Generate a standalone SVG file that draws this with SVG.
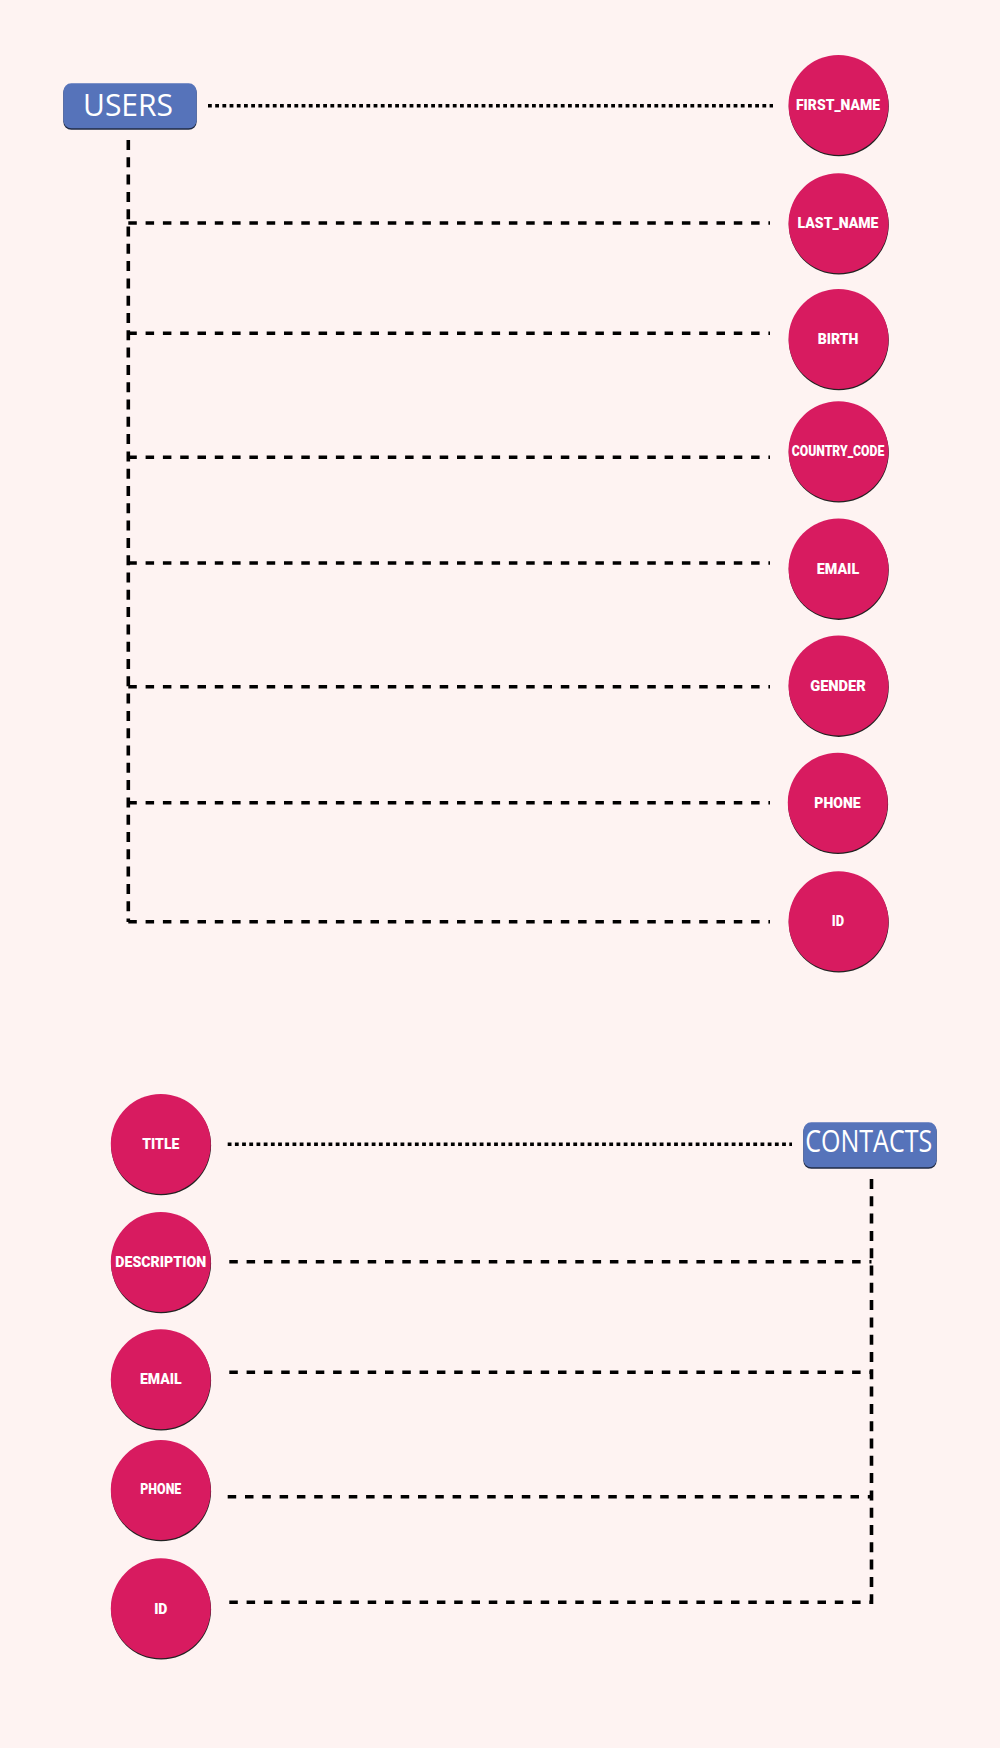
<svg xmlns="http://www.w3.org/2000/svg" width="1000" height="1748" viewBox="0 0 1000 1748">
<style>
.bg{fill:#FEF3F2}
.ent-shadow{fill:#1f2a44}
.ent{fill:#5673BA}
.ent-text{font-family:"Open Sans","Noto Sans","Liberation Sans",sans-serif;font-size:31px;fill:#ffffff;text-anchor:middle}
.attr-shadow{fill:#222222}
.attr{fill:#D81B60}
.attr-text{font-family:Roboto,"Liberation Sans",sans-serif;font-weight:900;font-size:15.5px;fill:#ffffff;text-anchor:middle}
.dash{fill:none;stroke:#000000;stroke-width:3.6;stroke-dasharray:8.5 8.8}
.vdash{fill:none;stroke:#000000;stroke-width:3.6;stroke-dasharray:10 7.3}
.dot{fill:none;stroke:#000000;stroke-width:3.6;stroke-dasharray:3.8 3.4}
</style>
<rect class="bg" x="0" y="0" width="1000" height="1748"/>

<g id="connectors">
  <line class="dot" x1="208" y1="105.7" x2="773" y2="105.7"/>
  <line class="vdash" x1="128.3" y1="140" x2="128.3" y2="922"/>
  <line class="dash" x1="128.3" y1="223" x2="770" y2="223"/>
  <line class="dash" x1="128.3" y1="333.3" x2="770" y2="333.3"/>
  <line class="dash" x1="128.3" y1="457.3" x2="770" y2="457.3"/>
  <line class="dash" x1="128.3" y1="563" x2="770" y2="563"/>
  <line class="dash" x1="128.3" y1="686.7" x2="770" y2="686.7"/>
  <line class="dash" x1="128.3" y1="802.7" x2="770" y2="802.7"/>
  <line class="dash" x1="128.3" y1="921.7" x2="770" y2="921.7"/>

  <line class="dot" x1="227.7" y1="1144.3" x2="792" y2="1144.3"/>
  <line class="vdash" x1="871.5" y1="1179" x2="871.5" y2="1604"/>
  <line class="dash" x1="229.3" y1="1261.7" x2="871.5" y2="1261.7"/>
  <line class="dash" x1="229.3" y1="1372.3" x2="871.5" y2="1372.3"/>
  <line class="dash" x1="227.7" y1="1496.7" x2="871.5" y2="1496.7"/>
  <line class="dash" x1="229.3" y1="1602.3" x2="871.5" y2="1602.3"/>
</g>

<g id="users">
  <rect class="ent-shadow" x="63.3" y="84.8" width="133.4" height="45" rx="8"/>
  <rect class="ent" x="63.3" y="83.3" width="133.4" height="45" rx="8"/>
  <text class="ent-text" x="128" y="115.5" textLength="90" lengthAdjust="spacingAndGlyphs">USERS</text>
</g>

<g id="contacts">
  <rect class="ent-shadow" x="803.3" y="1123.8" width="133.4" height="45" rx="8"/>
  <rect class="ent" x="803.3" y="1122.3" width="133.4" height="45" rx="8"/>
  <text class="ent-text" x="868.7" y="1152" font-size="29" textLength="127" lengthAdjust="spacingAndGlyphs">CONTACTS</text>
</g>

<g id="users-first_name">
  <circle class="attr-shadow" cx="838.8" cy="106.3" r="50"/>
  <circle class="attr" cx="838.5" cy="105" r="50"/>
  <text class="attr-text" x="838" y="109.5" textLength="84" lengthAdjust="spacingAndGlyphs">FIRST_NAME</text>
</g>
<g id="users-last_name">
  <circle class="attr-shadow" cx="838.8" cy="224.6" r="50"/>
  <circle class="attr" cx="838.5" cy="223.3" r="50"/>
  <text class="attr-text" x="838" y="228" textLength="81" lengthAdjust="spacingAndGlyphs">LAST_NAME</text>
</g>
<g id="users-birth">
  <circle class="attr-shadow" cx="838.8" cy="340.3" r="50"/>
  <circle class="attr" cx="838.5" cy="339" r="50"/>
  <text class="attr-text" x="838" y="344" textLength="40.7" lengthAdjust="spacingAndGlyphs">BIRTH</text>
</g>
<g id="users-country_code">
  <circle class="attr-shadow" cx="838.8" cy="452.6" r="50"/>
  <circle class="attr" cx="838.5" cy="451.3" r="50"/>
  <text class="attr-text" x="838" y="455.5" font-size="12" textLength="92.5" lengthAdjust="spacingAndGlyphs">COUNTRY_CODE</text>
</g>
<g id="users-email">
  <circle class="attr-shadow" cx="838.8" cy="569.9" r="50"/>
  <circle class="attr" cx="838.5" cy="568.6" r="50"/>
  <text class="attr-text" x="838" y="573.6" textLength="42.3" lengthAdjust="spacingAndGlyphs">EMAIL</text>
</g>
<g id="users-gender">
  <circle class="attr-shadow" cx="838.8" cy="686.9" r="50"/>
  <circle class="attr" cx="838.5" cy="685.6" r="50"/>
  <text class="attr-text" x="838" y="690.6" textLength="55.7" lengthAdjust="spacingAndGlyphs">GENDER</text>
</g>
<g id="users-phone">
  <circle class="attr-shadow" cx="838.1" cy="804" r="50"/>
  <circle class="attr" cx="837.8" cy="802.7" r="50"/>
  <text class="attr-text" x="837.5" y="807.7" textLength="46.3" lengthAdjust="spacingAndGlyphs">PHONE</text>
</g>
<g id="users-id">
  <circle class="attr-shadow" cx="838.8" cy="922.6" r="50"/>
  <circle class="attr" cx="838.5" cy="921.3" r="50"/>
  <text class="attr-text" x="838" y="926.3" textLength="12.3" lengthAdjust="spacingAndGlyphs">ID</text>
</g>

<g id="contacts-title">
  <circle class="attr-shadow" cx="161.1" cy="1145.3" r="50"/>
  <circle class="attr" cx="160.8" cy="1144" r="50"/>
  <text class="attr-text" x="160.8" y="1148.5" textLength="37" lengthAdjust="spacingAndGlyphs">TITLE</text>
</g>
<g id="contacts-description">
  <circle class="attr-shadow" cx="161.1" cy="1263.3" r="50"/>
  <circle class="attr" cx="160.8" cy="1262" r="50"/>
  <text class="attr-text" x="160.8" y="1266.7" textLength="91" lengthAdjust="spacingAndGlyphs">DESCRIPTION</text>
</g>
<g id="contacts-email">
  <circle class="attr-shadow" cx="161.1" cy="1380.6" r="50"/>
  <circle class="attr" cx="160.8" cy="1379.3" r="50"/>
  <text class="attr-text" x="160.8" y="1384.3" textLength="41.7" lengthAdjust="spacingAndGlyphs">EMAIL</text>
</g>
<g id="contacts-phone">
  <circle class="attr-shadow" cx="161.1" cy="1491.3" r="50"/>
  <circle class="attr" cx="160.8" cy="1490" r="50"/>
  <text class="attr-text" x="160.8" y="1494" font-size="13" textLength="41" lengthAdjust="spacingAndGlyphs">PHONE</text>
</g>
<g id="contacts-id">
  <circle class="attr-shadow" cx="161.1" cy="1609.6" r="50"/>
  <circle class="attr" cx="160.8" cy="1608.3" r="50"/>
  <text class="attr-text" x="160.8" y="1613.5" textLength="13.3" lengthAdjust="spacingAndGlyphs">ID</text>
</g>
</svg>
